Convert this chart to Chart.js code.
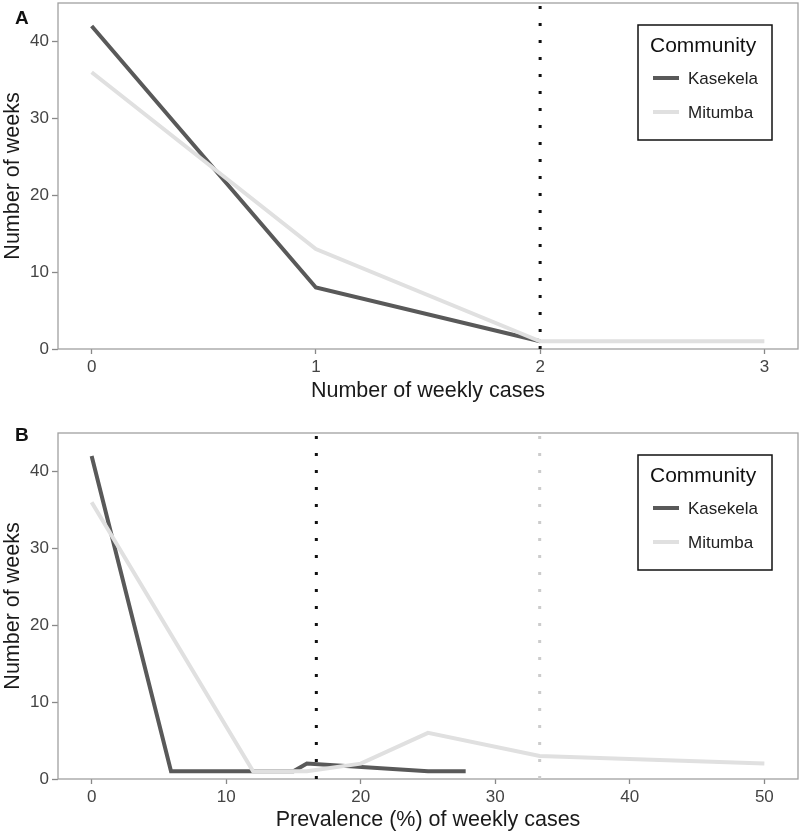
<!DOCTYPE html>
<html>
<head>
<meta charset="utf-8">
<script src="https://cdn.jsdelivr.net/npm/chart.js@4/dist/chart.umd.min.js"></script>
<style>
  html, body { margin: 0; padding: 0; background: #fff; }
  #wrap { position: relative; width: 800px; height: 836px; }
  canvas { position: absolute; left: 0; }
  #c1 { top: 0; }
  #c2 { top: 412px; }
</style>
</head>
<body>
<div id="wrap">
  <canvas id="c1" width="800" height="412"></canvas>
  <canvas id="c2" width="800" height="424"></canvas>
</div>
<script>
// ---------- Data ----------
const communities = ['Kasekela', 'Mitumba'];
const legendTitle = 'Community';

// Panel A: number of weekly cases
const casesTicks = [0, 1, 2, 3];
const kasekelaCasesX = [0, 1, 2];
const kasekelaCasesY = [42, 8, 1];
const mitumbaCasesX = [0, 1, 2, 3];
const mitumbaCasesY = [36, 13, 1, 1];
const casesThreshold = 2;

// Panel B: prevalence (%) of weekly cases
const prevTicks = [0, 10, 20, 30, 40, 50];
const kasekelaPrevX = [0, 5.9, 11.8, 15, 16, 25, 27.8];
const kasekelaPrevY = [42, 1, 1, 1, 2, 1, 1];
const mitumbaPrevX = [0, 12, 16, 20, 25, 33.3, 50];
const mitumbaPrevY = [36, 1, 1, 2, 6, 3, 2];
const prevThresholdKasekela = 16.7;
const prevThresholdMitumba = 33.3;

const yTicks = [0, 10, 20, 30, 40];

// ---------- Styles ----------
const FONT = "'Liberation Sans', Arial, Helvetica, sans-serif";
const COL_K = '#595959';
const COL_M = '#e0e0e0';
const COL_DOT_K = '#111111';
const COL_DOT_M = '#cccccc';

const toPts = (xs, ys) => xs.map((x, i) => ({ x: x, y: ys[i] }));

const decoPlugin = {
  id: 'deco',
  beforeDatasetsDraw(chart) {
    const a = chart.chartArea, ctx = chart.ctx;
    ctx.save();
    ctx.strokeStyle = '#a0a0a0';
    ctx.lineWidth = 1.3;
    ctx.strokeRect(a.left, a.top, a.right - a.left, a.bottom - a.top);
    ctx.restore();
  },
  afterDraw(chart, args, opts) {
    const a = chart.chartArea, ctx = chart.ctx;
    ctx.save();
    // panel letter
    ctx.fillStyle = '#111';
    ctx.font = 'bold 19px ' + FONT;
    ctx.textBaseline = 'middle';
    ctx.textAlign = 'left';
    ctx.fillText(opts.letter, 15, opts.letterY);
    // legend box
    const bx = a.right - 160, by = a.top + 22, bw = 134, bh = 115;
    ctx.fillStyle = '#fff';
    ctx.fillRect(bx, by, bw, bh);
    ctx.strokeStyle = '#111';
    ctx.lineWidth = 1.5;
    ctx.strokeRect(bx, by, bw, bh);
    ctx.fillStyle = '#111';
    ctx.font = '21px ' + FONT;
    ctx.fillText(legendTitle, bx + 12, by + 21);
    const cols = [COL_K, COL_M];
    communities.forEach((name, i) => {
      const yy = by + 53 + i * 34;
      ctx.strokeStyle = cols[i];
      ctx.lineWidth = 4;
      ctx.beginPath();
      ctx.moveTo(bx + 15, yy);
      ctx.lineTo(bx + 41, yy);
      ctx.stroke();
      ctx.fillStyle = '#222';
      ctx.font = '17px ' + FONT;
      ctx.fillText(name, bx + 50, yy + 1);
    });
    ctx.restore();
  }
};

function makeChart(id, cfg) {
  const datasets = [
    { label: 'thrK', data: [{ x: cfg.thrK, y: 0 }, { x: cfg.thrK, y: 45 }],
      borderColor: COL_DOT_K, borderWidth: 3, borderDash: [3, 14], borderCapStyle: 'butt', pointRadius: 0, order: 0 },
  ];
  if (cfg.thrM !== undefined) {
    datasets.push({ label: 'thrM', data: [{ x: cfg.thrM, y: 0 }, { x: cfg.thrM, y: 45 }],
      borderColor: COL_DOT_M, borderWidth: 3, borderDash: [3, 14], borderCapStyle: 'butt', pointRadius: 0, order: 1 });
  }
  datasets.push({ label: communities[1], data: toPts(cfg.mx, cfg.my), borderColor: COL_M,
    borderWidth: 4, pointRadius: 0, tension: 0, order: 2, borderJoinStyle: 'miter' });
  datasets.push({ label: communities[0], data: toPts(cfg.kx, cfg.ky), borderColor: COL_K,
    borderWidth: 4, pointRadius: 0, tension: 0, order: 3, borderJoinStyle: 'miter' });

  return new Chart(document.getElementById(id), {
    type: 'line',
    data: { datasets: datasets },
    plugins: [decoPlugin],
    options: {
      responsive: false,
      animation: false,
      layout: { padding: { top: cfg.padTop, right: 2, left: 0, bottom: 0 } },
      plugins: {
        legend: { display: false },
        tooltip: { enabled: false },
        deco: { letter: cfg.letter, letterY: cfg.letterY }
      },
      scales: {
        x: {
          type: 'linear',
          min: cfg.xmin, max: cfg.xmax,
          afterBuildTicks: s => { s.ticks = cfg.xticks.map(v => ({ value: v })); },
          afterFit: s => { s.height = cfg.xAxisH; s.paddingLeft = 0; s.paddingRight = 0; },
          grid: { display: true, drawOnChartArea: false, drawTicks: true, tickLength: 5, tickColor: '#888', tickWidth: 1.3 },
          border: { display: false },
          ticks: { color: '#444', font: { family: FONT, size: 17 }, padding: 3, maxRotation: 0 },
          title: { display: true, text: cfg.xtitle, color: '#1a1a1a', font: { family: FONT, size: 21.5 }, padding: { top: 0, bottom: cfg.xTitlePad } }
        },
        y: {
          type: 'linear',
          min: 0, max: 45,
          afterBuildTicks: s => { s.ticks = yTicks.map(v => ({ value: v })); },
          afterFit: s => { s.width = 58; s.paddingTop = 0; s.paddingBottom = 0; },
          grid: { display: true, drawOnChartArea: false, drawTicks: true, tickLength: 6, tickColor: '#888', tickWidth: 1.3 },
          border: { display: false },
          ticks: { color: '#444', font: { family: FONT, size: 17 }, padding: 3 },
          title: { display: true, text: 'Number of weeks', color: '#1a1a1a', font: { family: FONT, size: 21.5 }, padding: { top: 0, bottom: 0 } }
        }
      }
    }
  });
}

makeChart('c1', {
  letter: 'A', letterY: 19, padTop: 3, xAxisH: 63, xTitlePad: 8,
  xmin: -0.15, xmax: 3.15, xticks: casesTicks, xtitle: 'Number of weekly cases',
  kx: kasekelaCasesX, ky: kasekelaCasesY, mx: mitumbaCasesX, my: mitumbaCasesY,
  thrK: casesThreshold
});

makeChart('c2', {
  letter: 'B', letterY: 24, padTop: 21, xAxisH: 57, xTitlePad: 3,
  xmin: -2.5, xmax: 52.5, xticks: prevTicks, xtitle: 'Prevalence (%) of weekly cases',
  kx: kasekelaPrevX, ky: kasekelaPrevY, mx: mitumbaPrevX, my: mitumbaPrevY,
  thrK: prevThresholdKasekela, thrM: prevThresholdMitumba
});
</script>
</body>
</html>
